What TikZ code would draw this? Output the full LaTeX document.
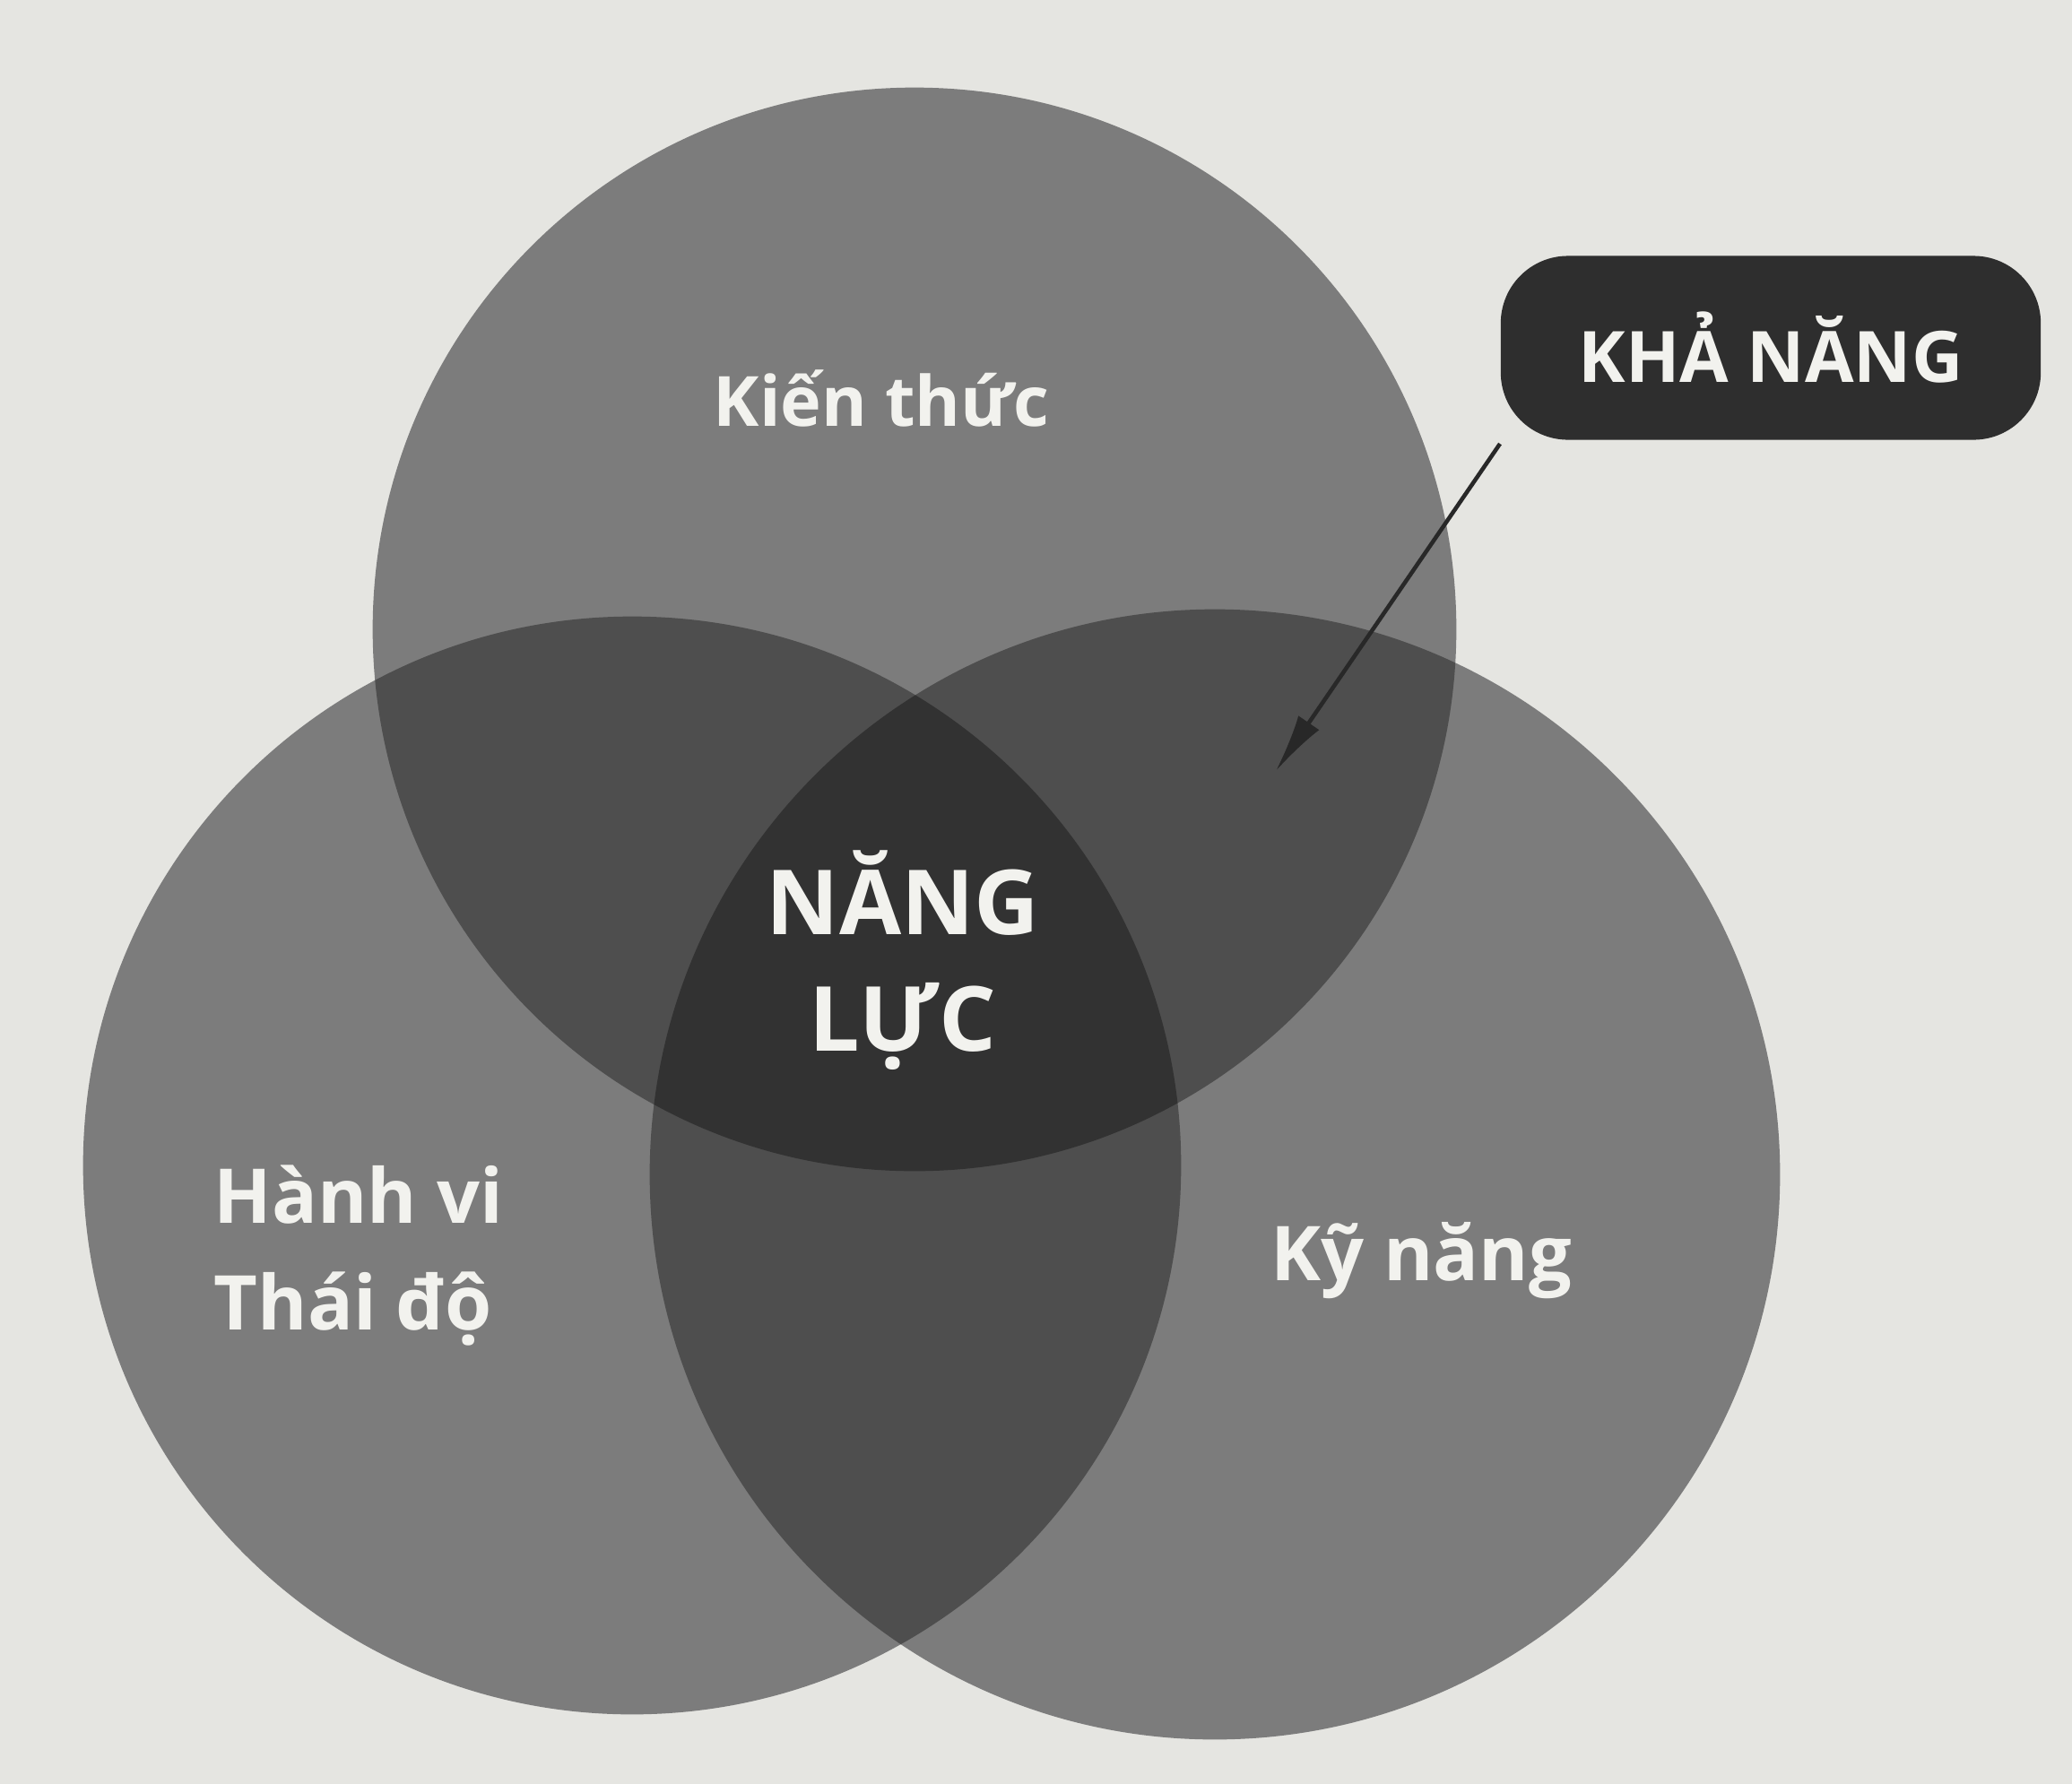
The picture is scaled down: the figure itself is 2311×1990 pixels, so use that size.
\documentclass[tikz,border=0pt]{standalone}
\usepackage{fontspec}
\setmainfont{Open Sans}
\usetikzlibrary{arrows.meta}

\definecolor{paper}{RGB}{229,229,225}
\definecolor{oneset}{RGB}{124,124,124}
\definecolor{twoset}{RGB}{78,78,78}
\definecolor{threeset}{RGB}{50,50,50}
\definecolor{labelink}{RGB}{242,242,238}
\definecolor{tagfill}{RGB}{46,46,46}
\definecolor{pointer}{RGB}{40,40,40}

\tikzset{
  setlabel/.style={text=labelink, font=\bfseries, inner sep=0pt},
  tagbox/.style={fill=tagfill, rounded corners=0.75cm, minimum width=6.02cm,
                 minimum height=2.05cm, text=labelink, inner sep=0pt},
  pointerline/.style={draw=pointer, line width=1.3pt,
                      -{Latex[length=6.5mm,width=2.8mm]}}
}

\begin{document}
\begin{tikzpicture}[x=0.01cm, y=-0.01cm]
  \useasboundingbox (0,0) rectangle (2311,1990);
  \fill[paper] (0,0) rectangle (2311,1990);

  % circle centres
  \coordinate (ctop)   at (1020,702);
  \coordinate (cleft)  at (705,1300);
  \coordinate (cright) at (1355,1310);
  \def\rtop{6.04cm}
  \def\rleft{6.12cm}
  \def\rright{6.30cm}

  % single sets
  \fill[oneset] (ctop)   circle[radius=\rtop];
  \fill[oneset] (cleft)  circle[radius=\rleft];
  \fill[oneset] (cright) circle[radius=\rright];

  % pairwise overlaps
  \begin{scope}
    \clip (ctop) circle[radius=\rtop];
    \fill[twoset] (cleft)  circle[radius=\rleft];
    \fill[twoset] (cright) circle[radius=\rright];
  \end{scope}
  \begin{scope}
    \clip (cleft) circle[radius=\rleft];
    \fill[twoset] (cright) circle[radius=\rright];
  \end{scope}

  % triple overlap
  \begin{scope}
    \clip (ctop) circle[radius=\rtop];
    \clip (cleft) circle[radius=\rleft];
    \fill[threeset] (cright) circle[radius=\rright];
  \end{scope}

  % labels (multi-line nodes sit on the baseline of their last line)
  \node[setlabel, anchor=base, font=\bfseries\fontsize{22}{26}\selectfont]
    (kienthuc) at (983,475) {Kiến thức};
  \node[setlabel, anchor=base, font=\bfseries\fontsize{24}{28}\selectfont]
    (kynang) at (1585,1428) {Kỹ năng};
  \node[setlabel, anchor=base west, align=left,
        font=\bfseries\fontsize{24}{33.6}\selectfont]
    (hanhvi) at (238,1483) {Hành vi\\Thái độ};
  \node[setlabel, anchor=base, align=center,
        font=\bfseries\fontsize{28.5}{36.7}\selectfont]
    (nangluc) at (1007,1172) {NĂNG\\LỰC};

  % ability tag and pointer
  \node[tagbox, font=\bfseries\fontsize{22.5}{27}\selectfont]
    (khanang) at (1975,388) {KHẢ NĂNG};
  \coordinate (tail) at (1673,495);
  \coordinate (tip)  at (1423,860);
  \draw[pointerline] (tail) -- (tip);
\end{tikzpicture}
\end{document}
